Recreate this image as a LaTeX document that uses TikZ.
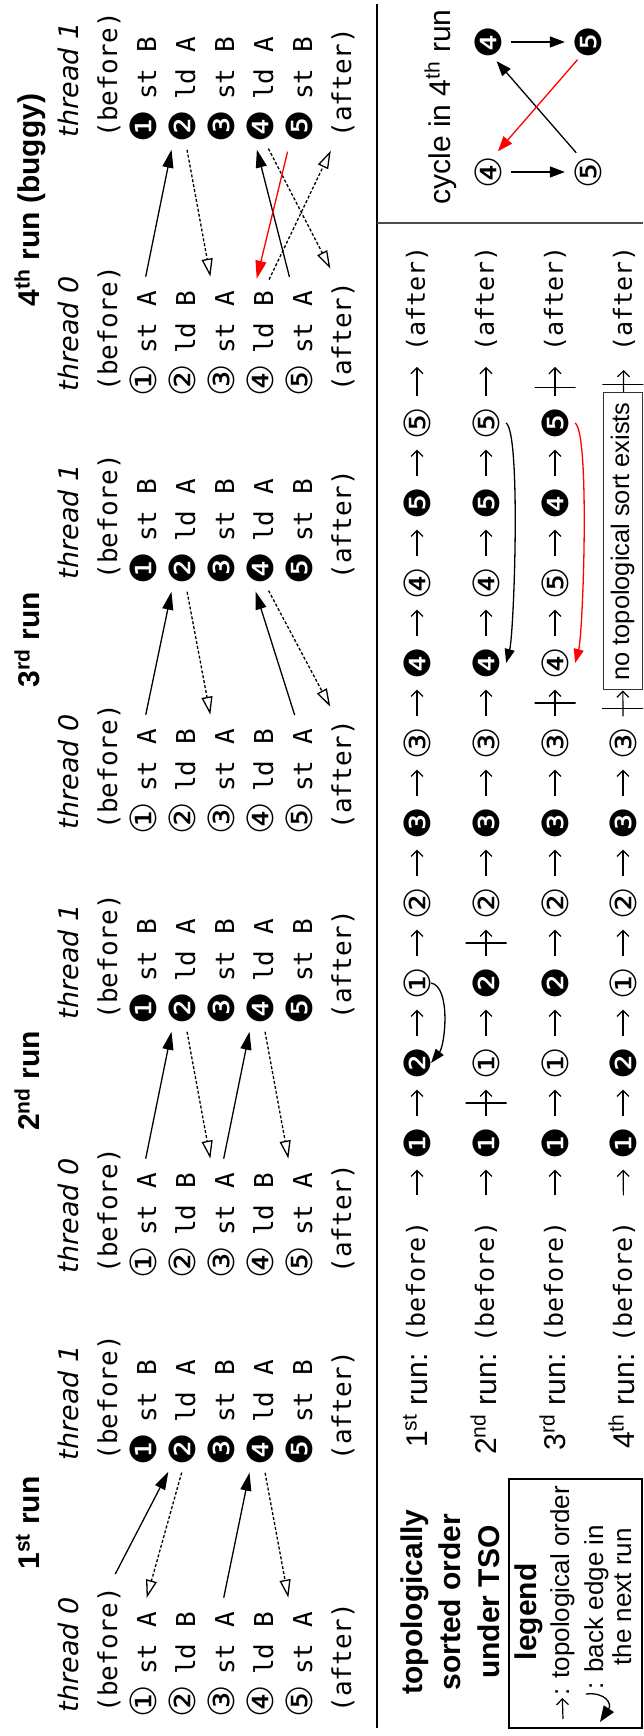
\documentclass[tikz,border=0pt]{standalone}
\usepackage{fontspec}
\setmainfont{Liberation Sans}
\setmonofont{DejaVu Sans Mono}
\newfontfamily\dejavu{DejaVu Sans}
\usetikzlibrary{arrows.meta,calc}
\newcommand{\circnum}[1]{\makebox[11pt]{\fontsize{18}{18}\selectfont\dejavu #1}}

\begin{document}
\begin{tikzpicture}[
  x=0.5pt, y=-0.5pt, rotate=90, transform shape, line width=0.65pt,
  code/.style={inner sep=0pt, anchor=base west, font=\fontsize{13}{15}\selectfont\ttfamily},
  threadlabel/.style={inner sep=0pt, anchor=base west, font=\fontsize{13.5}{15}\selectfont\dejavu\itshape},
  runhead/.style={inner sep=0pt, anchor=base, font=\fontsize{15}{18}\selectfont\bfseries},
  runlabel/.style={inner sep=0pt, anchor=base east, font=\fontsize{15}{18}\selectfont},
  seqcode/.style={inner sep=0pt, anchor=west, font=\fontsize{12.5}{15}\selectfont\ttfamily},
  seqitem/.style={inner sep=0pt},
  seq/.style={-{Straight Barb[length=3pt,width=6pt]}, line width=0.6pt, shorten <=7.5pt, shorten >=7.5pt},
  cutmark/.style={draw, line width=0.6pt, inner sep=0pt, minimum width=0pt, minimum height=20.5pt},
  rfedge/.style={-{Triangle[length=9pt,width=5.5pt]}, shorten <=7pt, shorten >=6pt},
  fredge/.style={-{Triangle[open,length=9pt,width=5.5pt]}, dash pattern=on 1.5pt off 1pt, shorten <=6pt, shorten >=7pt},
  backedge/.style={-{Triangle[length=7pt,width=5pt]}},
  cycedge/.style={-{Triangle[length=7.5pt,width=5.5pt]}},
  nosort/.style={draw=black!80, line width=0.5pt, inner sep=0pt, minimum width=148.5pt, minimum height=19.5pt, font=\fontsize{12.7}{15}\selectfont},
  heading/.style={align=center, inner sep=0pt, font=\fontsize{15}{19.25}\selectfont\bfseries},
  legtext/.style={inner sep=0pt, anchor=base west, font=\fontsize{13}{15}\selectfont}
]
\useasboundingbox (0,0) rectangle (1736,643);

% the four runs, two threads each
\foreach \blk/\xa/\xb/\xh/\hd in {1/23/275/213/{1\textsuperscript{st} run},
    2/462/716/655/{2\textsuperscript{nd} run},
    3/906/1156/1096/{3\textsuperscript{rd} run},
    4/1344/1598/1536/{4\textsuperscript{th} run (buggy)}}{
  \node[runhead] (h\blk) at (\xh,40) {\hd};
  \node[threadlabel] (p\blk-0-t) at (\xa,78) {thread 0};
  \node[threadlabel] (p\blk-1-t) at (\xb,78) {thread 1};
  \node[code] (p\blk-0-0) at (\xa,117) {(before)};
  \node[code] (p\blk-1-0) at (\xb,117) {(before)};
  \foreach \row/\ca/\ia/\cb/\ib in {1/①/st A/❶/st B, 2/②/ld B/❷/ld A,
      3/③/st A/❸/st B, 4/④/ld B/❹/ld A, 5/⑤/st A/❺/st B}{
    \node[code] (p\blk-0-\row) at (\xa,117+39*\row) {\circnum{\ca}\ \ia};
    \node[code] (p\blk-1-\row) at (\xb,117+39*\row) {\circnum{\cb}\ \ib};
  }
  \node[code] (p\blk-0-6) at (\xa,351) {(after)};
  \node[code] (p\blk-1-6) at (\xb,351) {(after)};
}

% 1st run
\draw[rfedge] (p1-0-0.east) -- ([yshift=4pt]p1-1-2.west);
\draw[fredge] ([yshift=-1.5pt]p1-1-2.west) -- (p1-0-1.east);
\draw[rfedge] (p1-0-3.east) -- ([yshift=4pt]p1-1-4.west);
\draw[fredge] ([yshift=-1.5pt]p1-1-4.west) -- ([yshift=4pt]p1-0-5.east);
% 2nd run
\draw[rfedge] (p2-0-1.east) -- ([yshift=4pt]p2-1-2.west);
\draw[fredge] ([yshift=-1.5pt]p2-1-2.west) -- ([yshift=4pt]p2-0-3.east);
\draw[rfedge] (p2-0-3.east) -- ([yshift=4pt]p2-1-4.west);
\draw[fredge] ([yshift=-1.5pt]p2-1-4.west) -- ([yshift=4pt]p2-0-5.east);
% 3rd run
\draw[rfedge] (p3-0-1.east) -- ([yshift=4pt]p3-1-2.west);
\draw[fredge] ([yshift=-1.5pt]p3-1-2.west) -- ([yshift=4pt]p3-0-3.east);
\draw[rfedge] (p3-0-5.east) -- ([yshift=4pt]p3-1-4.west);
\draw[fredge] ([yshift=-1.5pt]p3-1-4.west) -- ([yshift=3pt]p3-0-6.east);
% 4th run
\draw[rfedge] (p4-0-1.east) -- ([yshift=4pt]p4-1-2.west);
\draw[fredge] ([yshift=-1.5pt]p4-1-2.west) -- ([yshift=4pt]p4-0-3.east);
\draw[rfedge] ([yshift=3pt]p4-0-5.east) -- ([yshift=3pt]p4-1-4.west);
\draw[fredge] ([yshift=-1.5pt]p4-1-4.west) -- ([yshift=3pt]p4-0-6.east);
\draw[fredge] ([yshift=-2pt]p4-0-4.east) -- ([yshift=3pt]p4-1-6.west);
\draw[rfedge, red] ([yshift=4pt]p4-1-5.west) -- ([yshift=3pt]p4-0-4.east);

% dividers
\draw[line width=0.8pt] (8,377) -- (1732,377);
\draw[line width=0.8pt, black!70] (1513,377) -- (1513,643);

% topological orders
\node[heading] (tso) at (134,450) {topologically\\sorted order\\under TSO};
\foreach \r/\yy/\sfx in {1/427/st, 2/496/nd, 3/565/rd, 4/634/th}
  \node[runlabel] (l\r) at (383,\yy) {\r\textsuperscript{\sfx} run:};

\foreach \r/\yy/\items in {1/417/{❶,❷,①,②,❸,③,❹,④,❺,⑤},
    2/486/{❶,①,❷,②,❸,③,❹,④,❺,⑤},
    3/555/{❶,①,❷,②,❸,③,④,⑤,❹,❺}}{
  \node[seqcode] (q\r-0) at (393,\yy) {(before)};
  \foreach \c [count=\i] in \items
    \node[seqitem] (q\r-\i) at (513+80*\i,\yy) {\circnum{\c}};
  \node[seqcode] (q\r-11) at (1384,\yy) {(after)};
  \draw[seq, shorten <=13pt] (q\r-0) -- (q\r-1);
  \foreach \i [remember=\i as \j (initially 1)] in {2,...,11}
    \draw[seq] (q\r-\j) -- (q\r-\i);
}

\node[seqcode] (q4-0) at (393,624) {(before)};
\foreach \c [count=\i] in {❶,❷,①,②,❸,③}
  \node[seqitem] (q4-\i) at (513+80*\i,623) {\circnum{\c}};
\node[nosort] (q4-box) at (1194.5,622.5) {no topological sort exists};
\node[seqcode] (q4-11) at (1384,624) {(after)};
\draw[seq, shorten <=13pt] (q4-0) -- (q4-1);
\foreach \i [remember=\i as \j (initially 1)] in {2,...,6}
  \draw[seq] (q4-\j) -- (q4-\i);
\draw[seq, shorten >=0pt] (q4-6) -- (q4-box);
\draw[seq, shorten <=0pt, shorten >=9pt] (q4-box) -- (q4-11);

% blocked orders
\node[cutmark] (x2a) at ($(q2-1.east)!0.5!(q2-2.west)$) {};
\node[cutmark] (x2b) at ($(q2-3.east)!0.5!(q2-4.west)$) {};
\node[cutmark] (x3a) at ($(q3-6.east)!0.5!(q3-7.west)$) {};
\node[cutmark] (x3b) at ($(q3-10.east)!0.4!(q3-11.west)$) {};
\node[cutmark] (x4a) at ($(q4-6.east)!0.55!(q4-box.west)$) {};
\node[cutmark] (x4b) at ($(q4-box.east)!0.2!(q4-11.west)$) {};

% back edges
\draw[backedge] (q1-3.south) .. controls +(-4,20) and +(18,14) .. (q1-2.south);
\draw[backedge] ([yshift=-3pt]q2-10.south) .. controls +(-10,15) and +(30,8) .. ([yshift=-3pt]q2-7.south);
\draw[backedge, red] ([yshift=-3pt]q3-10.south) .. controls +(-10,15) and +(30,8) .. ([yshift=-3pt]q3-7.south);

% cycle
\node[inner sep=0pt, anchor=base, font=\fontsize{15}{18}\selectfont] (cyc) at (1629,450) {cycle in 4\textsuperscript{th} run};
\node[seqitem] (c4w) at (1564,488) {\circnum{④}};
\node[seqitem] (c5w) at (1564,588) {\circnum{⑤}};
\node[seqitem] (c4b) at (1694,488) {\circnum{❹}};
\node[seqitem] (c5b) at (1694,588) {\circnum{❺}};
\draw[cycedge, shorten <=4.5pt, shorten >=4.5pt] (c4w) -- (c5w);
\draw[cycedge, shorten <=4.5pt, shorten >=4.5pt] (c4b) -- (c5b);
\draw[cycedge, shorten <=5pt, shorten >=5pt] (c5w.24) -- (c4b.190);
\draw[cycedge, red, shorten <=4pt, shorten >=6pt] (c5b.156) -- (c4w.350);

% legend
\draw[line width=0.6pt] (8,509) rectangle (257,642);
\node[heading, anchor=base] (leg) at (124,536) {legend};
\coordinate (leg-a) at (17,563);
\node[legtext] (leg-topo) at (40,569) {: topological order};
\draw[seq, shorten <=0pt, shorten >=1pt] (leg-a) -- (leg-topo.west);
\coordinate (leg-b) at (42,586);
\coordinate (leg-c) at (14,600);
\draw[backedge, -{Triangle[length=8pt,width=6pt]}] (leg-b) .. controls +(2,20) and +(18,12) .. (leg-c);
\node[legtext] (leg-back) at (46,603) {: back edge in};
\node[legtext, anchor=base] (leg-next) at (139,631) {the next run};
\end{tikzpicture}
\end{document}
